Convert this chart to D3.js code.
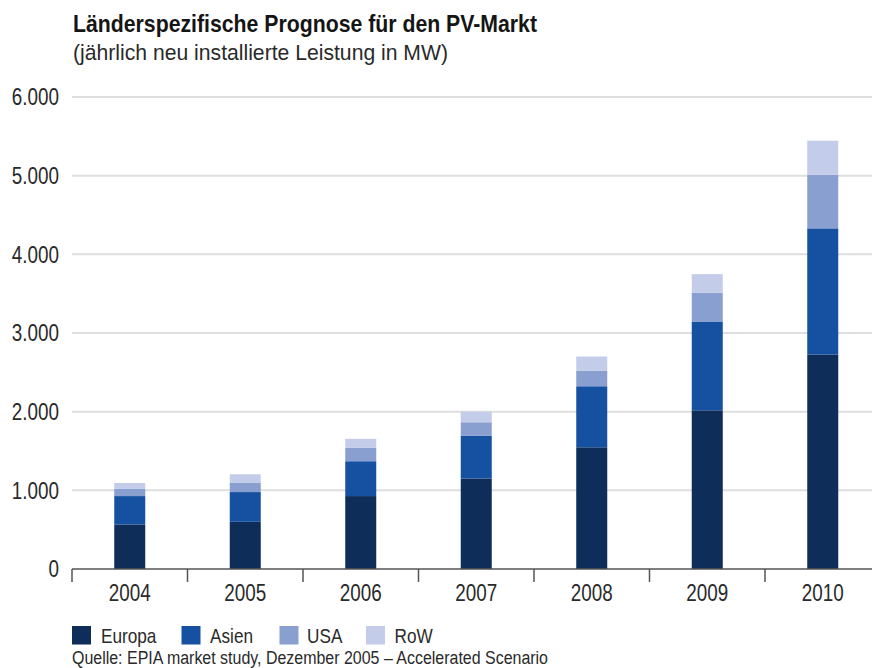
<!DOCTYPE html>
<html>
<head>
<meta charset="utf-8">
<script src="https://cdn.jsdelivr.net/npm/d3@7"></script>
<style>
  body { margin: 0; background: #fff; }
  svg { display: block; font-family: "Liberation Sans", Arial, sans-serif; }
</style>
</head>
<body>
<svg id="chart" width="872" height="668"></svg>
<script>
/** ------------- DATA -------------- */
const years = ["2004", "2005", "2006", "2007", "2008", "2009", "2010"];
const seriesNames = ["Europa", "Asien", "USA", "RoW"];
const europa = [566, 600, 927, 1150, 1547, 2017, 2726];
const asien = [361, 378, 443, 545, 776, 1129, 1604];
const usa = [95, 115, 170, 170, 195, 364, 681];
const row = [71, 111, 115, 135, 183, 238, 433];
const yTicks = [0, 1000, 2000, 3000, 4000, 5000, 6000];
const colors = ["#0f2d59", "#1551a0", "#889fcf", "#c3cce8"];

/** ------------- SETUP -------------- */
const svg = d3.select("#chart");
const plotLeft = 72;
const plotRight = 880.5;
const plotTop = 97;
const plotBottom = 569;
const squeeze = 0.82; // narrow type look

const x = d3.scaleBand().domain(years).range([plotLeft, plotRight]);
const y = d3.scaleLinear().domain([0, 6000]).range([plotBottom, plotTop]);
const color = d3.scaleOrdinal().domain(seriesNames).range(colors);
const barWidth = 31;

const table = years.map((yr, i) => ({
    year: yr,
    Europa: europa[i],
    Asien: asien[i],
    USA: usa[i],
    RoW: row[i],
}));
const stacked = d3.stack().keys(seriesNames)(table);

/** ------------- TITLE -------------- */
svg.append("text")
    .attr("x", 73)
    .attr("y", 32)
    .attr("font-size", 24)
    .attr("font-weight", "bold")
    .attr("fill", "#151515")
    .attr("textLength", 464)
    .attr("lengthAdjust", "spacingAndGlyphs")
    .text("Länderspezifische Prognose für den PV-Markt");

svg.append("text")
    .attr("x", 73)
    .attr("y", 59.5)
    .attr("font-size", 22.5)
    .attr("fill", "#2a2a2a")
    .attr("textLength", 375)
    .attr("lengthAdjust", "spacingAndGlyphs")
    .text("(jährlich neu installierte Leistung in MW)");

/** ------------- GRID + Y LABELS -------------- */
svg.append("g")
    .selectAll("line")
    .data(yTicks.filter((d) => d > 0))
    .join("line")
    .attr("x1", plotLeft)
    .attr("x2", 872)
    .attr("y1", (d) => y(d))
    .attr("y2", (d) => y(d))
    .attr("stroke", "#dedede")
    .attr("stroke-width", 2);

svg.append("g")
    .selectAll("text")
    .data(yTicks)
    .join("text")
    .attr("transform", (d) => `translate(59,${y(d)}) scale(${squeeze},1)`)
    .attr("dy", "0.36em")
    .attr("text-anchor", "end")
    .attr("font-size", 23)
    .attr("fill", "#2a2a2a")
    .text((d) => d3.format(",")(d).replace(/,/g, "."));

/** ------------- BARS -------------- */
svg.append("g")
    .selectAll("g")
    .data(stacked)
    .join("g")
    .attr("fill", (d) => color(d.key))
    .selectAll("rect")
    .data((d) => d)
    .join("rect")
    .attr("x", (d) => x(d.data.year) + x.bandwidth() / 2 - barWidth / 2)
    .attr("width", barWidth)
    .attr("y", (d) => y(d[1]))
    .attr("height", (d) => y(d[0]) - y(d[1]));

/** ------------- X AXIS -------------- */
const xAxis = svg.append("g");
xAxis.append("line")
    .attr("x1", plotLeft)
    .attr("x2", 872)
    .attr("y1", plotBottom)
    .attr("y2", plotBottom)
    .attr("stroke", "#555")
    .attr("stroke-width", 1.5);

xAxis.selectAll(".tick")
    .data(years)
    .join("line")
    .attr("class", "tick")
    .attr("x1", (d) => x(d))
    .attr("x2", (d) => x(d))
    .attr("y1", plotBottom)
    .attr("y2", plotBottom + 13)
    .attr("stroke", "#555")
    .attr("stroke-width", 1.5);

xAxis.selectAll("text")
    .data(years)
    .join("text")
    .attr("transform", (d) => `translate(${x(d) + x.bandwidth() / 2},601) scale(${squeeze},1)`)
    .attr("text-anchor", "middle")
    .attr("font-size", 23)
    .attr("fill", "#2a2a2a")
    .text((d) => d);

/** ------------- LEGEND -------------- */
const legendX = [72, 181.5, 279.5, 366];
const legendTextX = [101, 210, 307, 394.5];
const legend = svg.append("g")
    .selectAll("g")
    .data(seriesNames)
    .join("g");

legend.append("rect")
    .attr("x", (d, i) => legendX[i])
    .attr("y", 626)
    .attr("width", 19)
    .attr("height", 18.5)
    .attr("fill", (d) => color(d));

legend.append("text")
    .attr("transform", (d, i) => `translate(${legendTextX[i]},643) scale(0.86,1)`)
    .attr("font-size", 20)
    .attr("fill", "#2a2a2a")
    .text((d) => d);

svg.append("text")
    .attr("x", 72)
    .attr("y", 664)
    .attr("font-size", 18)
    .attr("fill", "#2a2a2a")
    .attr("textLength", 476)
    .attr("lengthAdjust", "spacingAndGlyphs")
    .text("Quelle: EPIA market study, Dezember 2005 – Accelerated Scenario");
</script>
</body>
</html>
